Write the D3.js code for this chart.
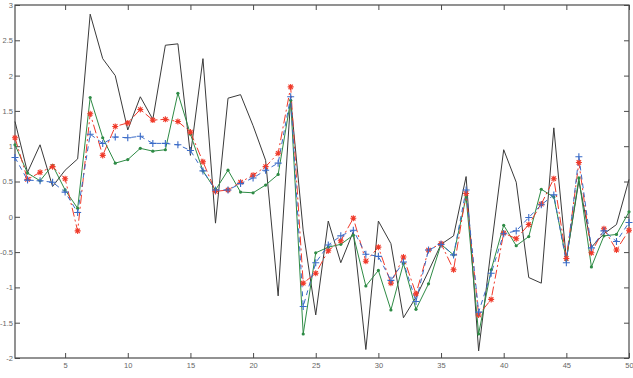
<!DOCTYPE html>
<html><head><meta charset="utf-8">
<script src="https://cdn.jsdelivr.net/npm/d3@7"></script>
<style>body{margin:0;background:#fff}svg{display:block}text{font-family:"Liberation Sans",Arial,sans-serif}</style>
</head><body><svg id="c" width="633" height="378"></svg>
<script>
const xValues = d3.range(1, 51);
const blackSeries = [1.35,0.63,1.02,0.43,0.66,0.82,2.87,2.24,2.0,1.23,1.70,1.38,2.43,2.45,0.87,2.24,-0.09,1.68,1.73,1.29,0.8,-1.12,1.67,-0.2,-1.39,-0.06,-0.65,-0.21,-1.88,-0.06,-0.38,-1.43,-1.14,-0.77,-0.39,-0.27,0.57,-1.9,-0.45,0.95,0.49,-0.86,-0.94,1.26,-0.6,0.51,-0.43,-0.24,-0.11,0.53];
const greenSeries = [1.02,0.62,0.51,0.73,0.38,0.12,1.69,1.12,0.76,0.81,0.97,0.93,0.95,1.75,1.17,0.65,0.38,0.66,0.35,0.34,0.45,0.6,1.65,-1.66,-0.51,-0.43,-0.39,-0.26,-0.98,-0.76,-1.32,-0.66,-1.31,-0.95,-0.39,-0.54,0.28,-1.66,-0.75,-0.12,-0.41,-0.28,0.39,0.28,-0.61,0.55,-0.71,-0.27,-0.25,0.07];
const redSeries = [1.12,0.53,0.63,0.71,0.54,-0.2,1.46,0.87,1.28,1.33,1.52,1.37,1.38,1.35,1.2,0.78,0.36,0.38,0.49,0.59,0.71,0.9,1.84,-0.94,-0.8,-0.48,-0.34,-0.02,-0.63,-0.43,-0.94,-0.57,-1.09,-0.47,-0.38,-0.75,0.33,-1.39,-1.17,-0.23,-0.31,-0.11,0.18,0.54,-0.59,0.77,-0.51,-0.17,-0.47,-0.19];
const blueSeries = [0.84,0.52,0.51,0.49,0.35,0.06,1.17,1.04,1.13,1.12,1.14,1.04,1.04,1.02,0.94,0.65,0.38,0.38,0.47,0.55,0.66,0.76,1.70,-1.27,-0.65,-0.40,-0.27,-0.19,-0.53,-0.56,-0.90,-0.64,-1.2,-0.47,-0.39,-0.54,0.38,-1.35,-0.80,-0.24,-0.2,-0.01,0.17,0.31,-0.65,0.85,-0.44,-0.2,-0.35,-0.08];
const xTicks = [5,10,15,20,25,30,35,40,45,50];
const yTicks = [-2,-1.5,-1,-0.5,0,0.5,1,1.5,2,2.5,3];

const svg = d3.select("#c");
const L = 15, R = 629, T = 5, B = 358;
const x = d3.scaleLinear().domain([1, 50]).range([L, R]);
const y = d3.scaleLinear().domain([-2, 3]).range([B, T]);

const axCol = "#4a4a4a", txtCol = "#666";
const tick = 5;
function styleAxis(g){ g.select(".domain").remove(); g.selectAll("line").attr("stroke", axCol); g.selectAll("text").attr("fill", txtCol).style("font-size","7.5px"); }
svg.append("g").attr("transform",`translate(0,${B})`).call(d3.axisBottom(x).tickValues(xTicks).tickSize(-tick).tickPadding(4).tickFormat(d3.format("d"))).call(styleAxis).selectAll("text").attr("dy","0.71em").attr("y",5);
svg.append("g").attr("transform",`translate(0,${T})`).call(d3.axisTop(x).tickValues(xTicks).tickSize(-tick).tickFormat("")).call(styleAxis);
svg.append("g").attr("transform",`translate(${L},0)`).call(d3.axisLeft(y).tickValues(yTicks).tickSize(-tick).tickPadding(3).tickFormat(d=>String(d))).call(styleAxis).selectAll("text").attr("x",-2);
svg.append("g").attr("transform",`translate(${R},0)`).call(d3.axisRight(y).tickValues(yTicks).tickSize(-tick).tickFormat("")).call(styleAxis);
svg.append("rect").attr("x",L).attr("y",T).attr("width",R-L).attr("height",B-T).attr("fill","none").attr("stroke",axCol).attr("stroke-width",1.2);

const line = d3.line().x((d,i)=>x(xValues[i])).y(d=>y(d));
const plot = svg.append("g");
function drawSeries(vals, color, dash){
  plot.append("path").datum(vals).attr("d", line).attr("fill","none").attr("stroke",color).attr("stroke-width",1).attr("stroke-dasharray",dash||null);
}
drawSeries(blackSeries, "#3a3a3a");
drawSeries(greenSeries, "#2e8b45");
drawSeries(redSeries, "#f03a2a", "9,3,2,3");
drawSeries(blueSeries, "#3a6bc8", "5,4");

// green dots
plot.selectAll(".gd").data(greenSeries).enter().append("circle").attr("cx",(d,i)=>x(xValues[i])).attr("cy",d=>y(d)).attr("r",1.6).attr("fill","#2e8b45");
// red stars
const star = "M-3,0H3M0,-3V3M-2.2,-2.2L2.2,2.2M-2.2,2.2L2.2,-2.2";
plot.selectAll(".rs").data(redSeries).enter().append("path").attr("transform",(d,i)=>`translate(${x(xValues[i])},${y(d)})`).attr("d",star).attr("stroke","#f03a2a").attr("stroke-width",1.1).attr("fill","none");
// blue plus
const plus = "M-3.5,0H3.5M0,-3.5V3.5";
plot.selectAll(".bp").data(blueSeries).enter().append("path").attr("transform",(d,i)=>`translate(${x(xValues[i])},${y(d)})`).attr("d",plus).attr("stroke","#3a6bc8").attr("stroke-width",1.1).attr("fill","none");
</script></body></html>
